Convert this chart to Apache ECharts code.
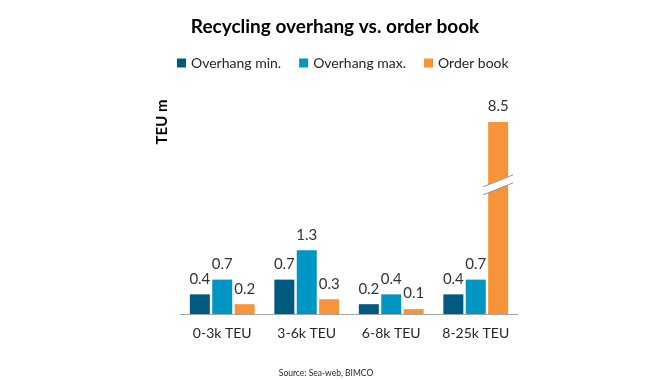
<!DOCTYPE html>
<html>
<head>
<meta charset="utf-8">
<script src="https://cdn.jsdelivr.net/npm/echarts@6/dist/echarts.min.js"></script>
<style>html,body{margin:0;padding:0;background:#fff}#c{width:670px;height:380px}</style>
</head>
<body>
<div id="c"></div>
<script>
const categories = ['0-3k TEU', '3-6k TEU', '6-8k TEU', '8-25k TEU'];
const overhangMin = [0.4, 0.7, 0.2, 0.4];
const overhangMax = [0.7, 1.3, 0.4, 0.7];
const orderBook = [0.2, 0.3, 0.1, 8.5];
const seriesNames = ['Overhang min.', 'Overhang max.', 'Order book'];
const breakStart = 2.55, breakEnd = 7.3;

const FONT = 'Lato, "Liberation Sans", sans-serif';
const colors = ['#005a80', '#0096c3', '#f7943a'];

const chart = echarts.init(document.getElementById('c'), null, {renderer: 'canvas'});
const lbl = {show: true, position: 'top', distance: 8, fontFamily: FONT, fontSize: 15, color: '#333', formatter: p => p.value.toFixed(1)};
const mk = (name, data, i) => ({
  name, type: 'bar', data, barWidth: 20, barGap: '12%',
  itemStyle: {color: colors[i]}, label: lbl
});
chart.setOption({
  animation: false,
  textStyle: {fontFamily: FONT},
  title: {text: 'Recycling overhang vs. order book', left: 'center', top: 12,
    textStyle: {fontFamily: FONT, fontSize: 19, fontWeight: 'bold', color: '#000'}},
  legend: {data: seriesNames, left: 172, top: 51, icon: 'rect', itemWidth: 9, itemHeight: 9, itemGap: 18,
    textStyle: {fontFamily: FONT, fontSize: 14, color: '#262626'}},
  grid: {left: 180, right: 152, top: 122, bottom: 66},
  xAxis: {type: 'category', data: categories,
    axisLine: {lineStyle: {color: '#a6a6a6', width: 1}}, axisTick: {show: false},
    axisLabel: {interval: 0, fontFamily: FONT, fontSize: 14, color: '#262626', margin: 12}},
  yAxis: {type: 'value', min: 0, max: 8.5,
    breaks: [{start: breakStart, end: breakEnd, gap: 0.16}],
    breakArea: {show: false},
    axisLine: {show: false}, axisTick: {show: false}, axisLabel: {show: false}, splitLine: {show: false}},
  series: [mk(seriesNames[0], overhangMin, 0), mk(seriesNames[1], overhangMax, 1), mk(seriesNames[2], orderBook, 2)]
});

// axis name and source
const extra = [
  {type: 'text', x: 162, y: 122, rotation: Math.PI / 2,
   style: {text: 'TEU m', fontFamily: FONT, fontSize: 15, fontWeight: 'bold', fill: '#000', align: 'center', verticalAlign: 'middle'}},
  {type: 'text', x: 326, y: 373,
   style: {text: 'Source: Sea-web, BIMCO', fontFamily: FONT, fontSize: 8.5, fill: '#262626', align: 'center', verticalAlign: 'middle'}}
];
// break mark on the broken bar
try {
  const data = chart.getModel().getSeriesByIndex(2).getData();
  const idx = orderBook.findIndex(v => v > breakEnd);
  const lay = data.getItemLayout(idx);
  const y1 = chart.convertToPixel({yAxisIndex: 0}, breakStart);
  const y2 = chart.convertToPixel({yAxisIndex: 0}, breakEnd);
  const yc = (y1 + y2) / 2;
  const x0 = lay.x - 5, x1 = lay.x + lay.width + 5;
  const slope = 12 / 30, cx = (x0 + x1) / 2;
  const yAt = (x, off) => yc + off - (x - cx) * slope;
  extra.push({type: 'polygon', z: 100,
    shape: {points: [[x0, yAt(x0, -4)], [x1, yAt(x1, -4)], [x1, yAt(x1, 4)], [x0, yAt(x0, 4)]]},
    style: {fill: '#fff'}});
  extra.push({type: 'line', z: 101, shape: {x1: x0, y1: yAt(x0, -4), x2: x1, y2: yAt(x1, -4)}, style: {stroke: '#8c9aa6', lineWidth: 1}});
  extra.push({type: 'line', z: 101, shape: {x1: x0, y1: yAt(x0, 4), x2: x1, y2: yAt(x1, 4)}, style: {stroke: '#8c9aa6', lineWidth: 1}});
} catch (e) { console.error(e); }
chart.setOption({graphic: extra});
</script>
</body>
</html>
